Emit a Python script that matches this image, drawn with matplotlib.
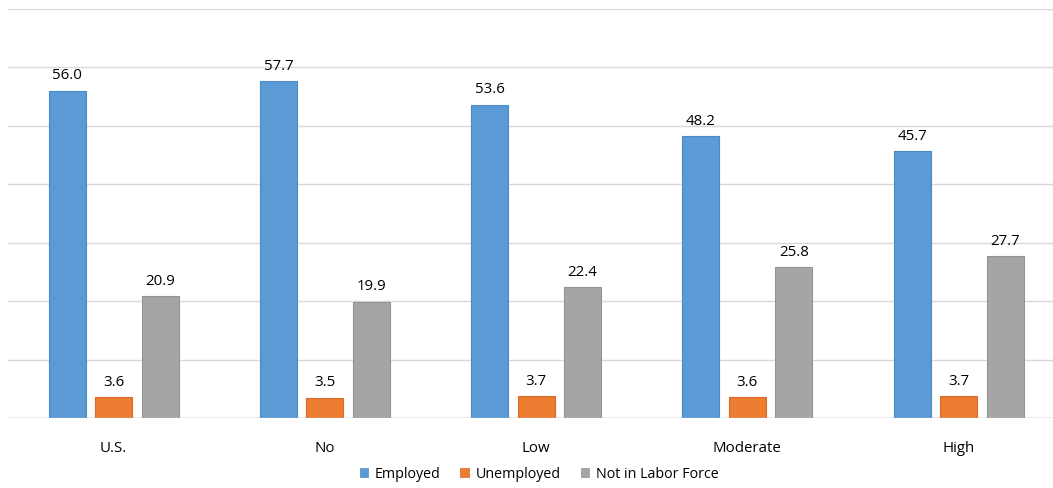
import numpy as np
import matplotlib.pyplot as plt
from matplotlib.patches import Patch

# category groups and series values (percent)
categories = ["U.S.", "No", "Low", "Moderate", "High"]
series_names = ["Employed", "Unemployed", "Not in Labor Force"]
employed = [56.0, 57.7, 53.6, 48.2, 45.7]
unemployed = [3.6, 3.5, 3.7, 3.6, 3.7]
not_in_lf = [20.9, 19.9, 22.4, 25.8, 27.7]

colors = ["#5B9BD5", "#ED7D31", "#A5A5A5"]
edges = ["#4A89C4", "#D9692A", "#939393"]

plt.rcParams['font.family'] = ['Open Sans', 'DejaVu Sans']

W, H = 1053, 489
fig = plt.figure(figsize=(W / 100, H / 100), dpi=100)
ax = fig.add_axes([8 / W, (H - 419) / H, (W - 8) / W, 409 / H])

x = np.arange(len(categories))
width = 0.175
step = 0.22
for k, vals in enumerate([employed, unemployed, not_in_lf]):
    pos = x + (k - 1) * step
    bars = ax.bar(pos, vals, width, color=colors[k], edgecolor=edges[k],
                  linewidth=0.8, zorder=3)
    for b, v in zip(bars, vals):
        ax.annotate(f"{v:.1f}", (b.get_x() + b.get_width() / 2, v),
                    xytext=(0, 6), textcoords="offset points",
                    ha="center", va="bottom", fontsize=10.8, color="#000000")

ax.set_xlim(-0.5, -0.5 + (W - 8) / 211.25)
ax.set_ylim(0, 70)
ax.set_yticks(np.arange(0, 71, 10))
ax.set_yticklabels([])
ax.tick_params(axis="y", length=0)
ax.grid(axis="y", color="#D9D9D9", linewidth=1, zorder=0)
for s in ax.spines.values():
    s.set_visible(False)
ax.axhline(0, color="#BFBFBF", linewidth=1, zorder=4)

ax.set_xticks(x)
ax.set_xticklabels(categories, fontsize=10.8, color="#000000")
ax.tick_params(axis="x", length=0, pad=16)

handles = [Patch(facecolor=c, edgecolor=e, linewidth=0.5) for c, e in zip(colors, edges)]
fig.legend(handles, series_names, loc="center", bbox_to_anchor=(539 / W, (H - 475) / H),
           ncol=3, frameon=False, fontsize=10.3, handlelength=0.6, handleheight=0.6,
           handletextpad=0.45, columnspacing=1.4)

fig.savefig("out.png", dpi=100)
